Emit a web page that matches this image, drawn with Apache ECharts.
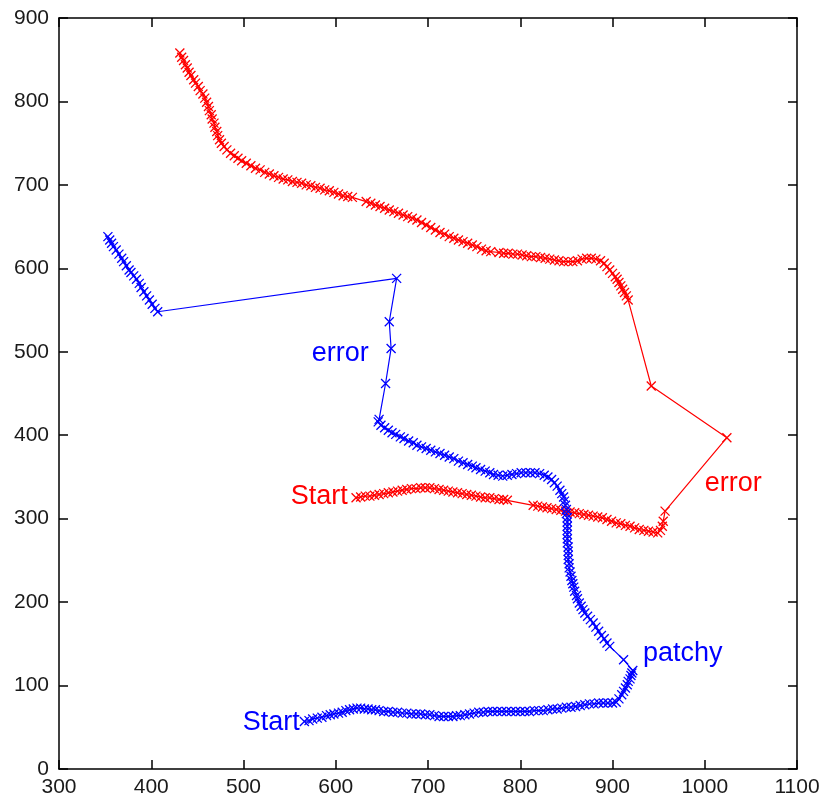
<!DOCTYPE html>
<html>
<head>
<meta charset="utf-8">
<script src="https://cdn.jsdelivr.net/npm/echarts@6/dist/echarts.min.js"></script>
<style>
  html, body { margin: 0; padding: 0; background: #ffffff; }
  #chart { width: 823px; height: 801px; }
</style>
</head>
<body>
<div id="chart"></div>
<script>
// Axis ranges and tick labels
const xTicks = [300, 400, 500, 600, 700, 800, 900, 1000, 1100];
const yTicks = [0, 100, 200, 300, 400, 500, 600, 700, 800, 900];

// Blue trajectory, in travel order (starts at the bottom "Start")
const blueTrack = [
  [566,57],[571,58],[575,60],[580,61],[585,62],[590,64],[594,65],[598,66],[603,67],[607,68],
  [611,70],[615,71],[619,72],[623,73],[627,73],[631,72],[635,72],[639,71],[643,71],[647,70],
  [652,69],[657,69],[662,68],[667,68],[672,67],[677,67],[682,66],[687,66],[692,66],[697,65],
  [702,65],[707,64],[712,63],[717,63],[722,63],[727,63],[731,64],[735,64],[740,65],[745,66],
  [750,67],[755,68],[760,68],[765,69],[770,69],[775,69],[780,69],[785,69],[790,69],[795,69],
  [800,69],[805,69],[810,69],[815,70],[820,70],[825,70],[830,71],[835,72],[840,72],[845,73],
  [850,74],[855,74],[860,75],[865,76],[870,77],[875,78],[880,78],[885,79],[890,79],[895,79],
  [900,79],[904,80],
  [907,84],[910,89],[912,93],[914,97],[916,101],[917,105],[919,108],[920,112],[921,115],[922,118],
  [912,131],
  [897,147],[894,151],[891,156],[888,160],[885,165],[882,170],[879,175],[876,179],[873,183],[870,187],
  [868,191],[866,195],[864,199],[862,204],[861,208],[859,213],[858,218],[857,222],[856,226],[855,231],
  [854,236],[853,241],[853,246],[852,251],[852,256],[852,261],[852,266],[851,271],[851,276],[851,281],
  [851,286],[851,291],[851,296],[851,301],[850,306],[850,311],[849,316],[848,321],[847,326],[845,330],
  [843,334],[840,339],[837,343],[834,347],[830,350],[826,352],[821,354],[816,355],[811,355],[806,355],
  [801,355],[796,354],[791,353],[786,352],[781,351],[776,352],[771,353],[767,355],[762,357],[757,359],
  [752,361],[748,363],[743,365],[738,367],[733,369],[728,372],[723,374],[718,376],[713,378],[708,380],
  [703,382],[698,384],[693,386],[688,388],[684,391],[679,393],[674,396],[670,398],[665,401],[661,403],
  [657,406],[653,409],[649,412],[646,416],[647,419],
  [654,462],[660,504],[658,536],[666,588],
  [407,548],[404,552],[401,557],[398,562],[395,567],[392,572],[389,577],[387,582],[384,587],[381,591],
  [378,595],[376,598],[373,603],[370,608],[368,612],[365,617],[362,622],[359,626],[357,630],[355,634],
  [353,638]
];

// Red trajectory, in travel order (starts at the middle "Start")
const redTrack = [
  [622,325],[627,326],[632,327],[637,327],[642,328],[647,329],[652,330],[657,331],[662,332],[667,333],
  [672,334],[677,335],[682,336],[687,336],[692,337],[697,337],[702,337],[707,336],[712,335],[717,334],
  [722,333],[727,332],[732,331],[737,330],[742,329],[747,328],[752,327],[757,326],[762,325],[767,325],
  [772,324],[777,323],[782,323],[786,322],
  [814,316],[819,315],[824,314],[829,313],[834,312],[839,311],[844,310],[849,309],[854,308],[859,307],
  [864,306],[869,305],[874,304],[879,303],[884,302],[889,301],[894,299],[899,297],[904,295],[909,294],
  [914,292],[919,291],[924,289],[929,287],[934,286],[939,285],[944,284],[949,283],[952,286],[954,291],
  [955,297],[957,309],
  [1024,397],
  [942,459],
  [917,562],[915,567],[913,571],[911,575],[909,579],[907,583],[905,587],[903,590],[900,594],[897,598],
  [894,602],[891,606],[887,609],[882,611],[877,612],[872,612],[867,611],[862,609],[857,608],[852,608],
  [847,608],[842,609],[837,610],[832,611],[827,612],[822,613],[817,614],[812,614],[807,615],[802,616],
  [797,617],[792,617],[787,618],[782,618],[777,619],
  [768,620],[763,621],[758,623],[753,626],[748,628],[743,630],[738,632],[733,634],[728,636],[723,638],
  [718,641],[713,643],[708,646],[703,649],[698,652],[693,655],[688,658],[683,660],[678,662],[673,664],
  [668,666],[663,668],[658,670],[653,672],[648,674],[643,676],[638,678],[633,680],
  [618,685],[613,686],[608,687],[603,689],[598,691],[593,693],[588,694],[583,696],[578,697],[573,699],
  [568,700],[563,702],[558,703],[553,704],[548,706],[543,707],[538,709],[533,711],[528,713],[523,715],
  [518,718],[513,720],[508,723],[503,726],[498,729],[494,732],[490,735],[486,738],[482,742],[479,746],
  [476,750],[474,754],[472,759],[471,764],[469,769],[468,774],[466,779],[465,784],[463,789],[462,794],
  [460,799],[458,804],[456,809],[453,813],[451,818],[448,822],[446,826],[443,831],[441,835],[439,840],
  [437,844],[435,849],[433,853],[431,858]
];

// Text annotations placed at data coordinates
const noteTexts  = ['Start', 'error', 'patchy', 'Start', 'error'];
const notePoints = [[561, 56], [574, 498], [933, 138], [613, 326], [1000, 342]];
const noteTrack  = ['blue', 'blue', 'blue', 'red', 'red'];

const BLUE = '#0000ff';
const RED = '#ff0000';
const FONT = 'Arial, "Liberation Sans", Helvetica, sans-serif';
const noteAlign = ['right', 'left', 'left', 'right', 'left'];

const xMin = xTicks[0], xMax = xTicks[xTicks.length - 1];
const yMin = yTicks[0], yMax = yTicks[yTicks.length - 1];

// "x" marker drawn as two crossing strokes
const crossMark = 'path://M0,0L10,10M0,10L10,0';

function boxAxis(kind, position, showLabels) {
  const isX = kind === 'x';
  return {
    type: 'value',
    position: position,
    min: isX ? xMin : yMin,
    max: isX ? xMax : yMax,
    interval: 100,
    splitLine: { show: false },
    axisLine: { show: true, onZero: false, lineStyle: { color: '#000', width: 1.5 } },
    axisTick: { show: true, inside: true, length: 9, lineStyle: { color: '#000', width: 1.5 } },
    axisLabel: {
      show: showLabels,
      color: '#1a1a1a',
      fontFamily: FONT,
      fontSize: 21,
      margin: isX ? 8 : 10,
      formatter: (v) => String(v)
    }
  };
}

function trackSeries(data, color) {
  return {
    type: 'line',
    data: data,
    xAxisIndex: 0,
    yAxisIndex: 0,
    showAllSymbol: true,
    symbol: crossMark,
    symbolSize: 9,
    lineStyle: { color: color, width: 1.2 },
    itemStyle: { color: color, borderColor: color, borderWidth: 1.3, opacity: 1 },
    smooth: false,
    animation: false,
    silent: true,
    z: 3
  };
}

const noteData = noteTexts.map((t, i) => ({
  value: notePoints[i],
  name: t,
  label: {
    show: true,
    position: 'inside',
    formatter: t,
    align: noteAlign[i],
    verticalAlign: 'middle',
    color: noteTrack[i] === 'blue' ? BLUE : RED,
    textBorderWidth: 0,
    opacity: 1,
    fontFamily: FONT,
    fontSize: 27
  }
}));

const chart = echarts.init(document.getElementById('chart'), null, { renderer: 'canvas' });
chart.setOption({
  backgroundColor: '#ffffff',
  animation: false,
  grid: { left: 59, top: 18, width: 738, height: 751, containLabel: false },
  xAxis: [boxAxis('x', 'bottom', true), boxAxis('x', 'top', false)],
  yAxis: [boxAxis('y', 'left', true), boxAxis('y', 'right', false)],
  series: [
    trackSeries(redTrack, RED),
    trackSeries(blueTrack, BLUE),
    {
      type: 'scatter',
      data: noteData,
      symbolSize: 0,
      itemStyle: { opacity: 1 },
      silent: true,
      animation: false,
      z: 4
    }
  ]
});
</script>
</body>
</html>
